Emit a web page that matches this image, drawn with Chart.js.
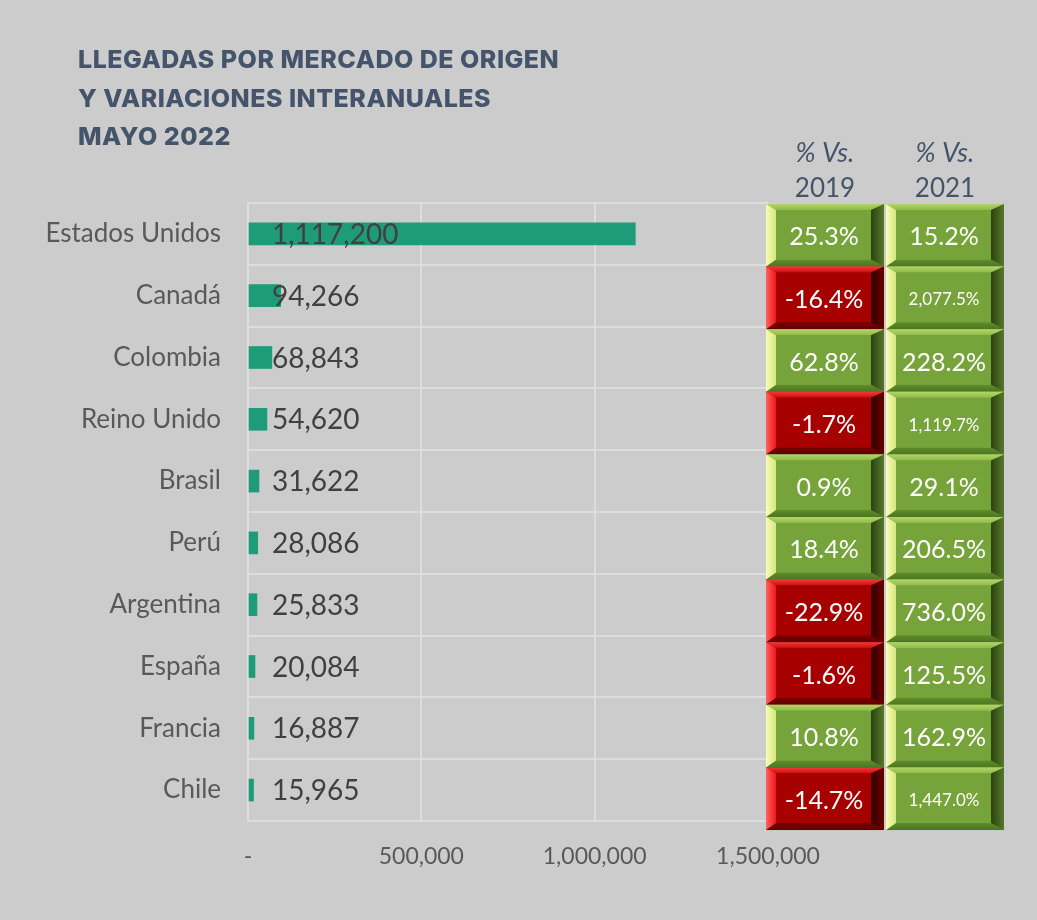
<!DOCTYPE html>
<html lang="es">
<head>
<meta charset="utf-8">
<title>Llegadas por mercado de origen - Mayo 2022</title>
<script src="https://cdn.jsdelivr.net/npm/chart.js@4.4.1/dist/chart.umd.min.js"></script>
<style>
  html, body { margin: 0; padding: 0; background: #cccccc; }
  #wrap { position: relative; width: 1037px; height: 920px; }
  canvas { display: block; }
</style>
</head>
<body>
<div id="wrap"><canvas id="chart" width="1037" height="920"></canvas></div>
<script>
// Mercados de origen y llegadas de mayo 2022
const categories = ['Estados Unidos', 'Canadá', 'Colombia', 'Reino Unido', 'Brasil', 'Perú', 'Argentina', 'España', 'Francia', 'Chile'];
const arrivals = [1117200, 94266, 68843, 54620, 31622, 28086, 25833, 20084, 16887, 15965];

// Variación porcentual frente a 2019 y 2021
const vs2019 = [25.3, -16.4, 62.8, -1.7, 0.9, 18.4, -22.9, -1.6, 10.8, -14.7];
const vs2021 = [15.2, 2077.5, 228.2, 1119.7, 29.1, 206.5, 736.0, 125.5, 162.9, 1447.0];

// Marcas del eje horizontal
const xTicks = [0, 500000, 1000000, 1500000];

const titleLines = ['LLEGADAS POR MERCADO DE ORIGEN', 'Y VARIACIONES INTERANUALES', 'MAYO 2022'];
const columnHeaders = [['% Vs.', '2019'], ['% Vs.', '2021']];

const FONT = 'Lato, "Open Sans", sans-serif';
const SLATE = '#44546a';

const fmtInt = v => v.toLocaleString('en-US');
const fmtPct = v => v.toLocaleString('en-US', { minimumFractionDigits: 1, maximumFractionDigits: 1 }) + '%';

const PALETTES = {
  up: {
    face: '#76a33a',
    top: ['#b3d56a', '#8fba48'],
    bottom: ['#4c7620', '#5f8c2b'],
    left: ['#f8fcb8', '#d6e77e'],
    right: ['#56782a', '#2a4210']
  },
  down: {
    face: '#a60000',
    top: ['#f23a3a', '#cc0c0c'],
    bottom: ['#5e0000', '#7a0000'],
    left: ['#ff6060', '#f01818'],
    right: ['#6a0000', '#320000']
  }
};

function poly(ctx, pts, fill) {
  ctx.beginPath();
  ctx.moveTo(pts[0][0], pts[0][1]);
  for (let i = 1; i < pts.length; i++) ctx.lineTo(pts[i][0], pts[i][1]);
  ctx.closePath();
  ctx.fillStyle = fill;
  ctx.fill();
}

// Celda con relieve biselado
function bevelCell(ctx, x, y, w, h, pal) {
  const L = 10, R = 13, T = 6, B = 7;
  const ix = x + L, iy = y + T, iw = w - L - R, ih = h - T - B;
  ctx.fillStyle = pal.face;
  ctx.fillRect(x, y, w, h);

  let g = ctx.createLinearGradient(0, y, 0, iy);
  g.addColorStop(0, pal.top[0]); g.addColorStop(1, pal.top[1]);
  poly(ctx, [[x, y], [x + w, y], [ix + iw, iy], [ix, iy]], g);

  g = ctx.createLinearGradient(0, y + h, 0, iy + ih);
  g.addColorStop(0, pal.bottom[0]); g.addColorStop(1, pal.bottom[1]);
  poly(ctx, [[x, y + h], [x + w, y + h], [ix + iw, iy + ih], [ix, iy + ih]], g);

  g = ctx.createLinearGradient(x, 0, ix, 0);
  g.addColorStop(0, pal.left[0]); g.addColorStop(1, pal.left[1]);
  poly(ctx, [[x, y], [ix, iy], [ix, iy + ih], [x, y + h]], g);

  g = ctx.createLinearGradient(x + w, 0, ix + iw, 0);
  g.addColorStop(0, pal.right[0]); g.addColorStop(1, pal.right[1]);
  poly(ctx, [[x + w, y], [ix + iw, iy], [ix + iw, iy + ih], [x + w, y + h]], g);

  ctx.fillStyle = pal.face;
  ctx.fillRect(ix, iy, iw, ih);
}

const panelPlugin = {
  id: 'panel',
  beforeDraw(chart) {
    const ctx = chart.ctx;
    ctx.save();
    ctx.fillStyle = '#cccccc';
    ctx.fillRect(0, 0, chart.width, chart.height);
    ctx.restore();
  },
  afterDatasetsDraw(chart) {
    // Etiquetas de valor junto a la base de cada barra
    const ctx = chart.ctx;
    const xs = chart.scales.x;
    const meta = chart.getDatasetMeta(0);
    ctx.save();
    ctx.font = '28px ' + FONT;
    ctx.fillStyle = '#404040';
    ctx.textAlign = 'left';
    ctx.textBaseline = 'middle';
    const x0 = xs.getPixelForValue(0) + 24;
    meta.data.forEach((bar, i) => {
      ctx.fillText(fmtInt(arrivals[i]), x0, bar.y + 1);
    });
    ctx.restore();
  },
  afterDraw(chart) {
    const ctx = chart.ctx;
    const area = chart.chartArea;
    const ys = chart.scales.y;
    ctx.save();

    // Título
    ctx.fillStyle = SLATE;
    ctx.textAlign = 'left';
    ctx.textBaseline = 'alphabetic';
    ctx.font = '800 25px Inter, "DejaVu Sans", sans-serif';
    if ('letterSpacing' in ctx) ctx.letterSpacing = '0.5px';
    titleLines.forEach((t, i) => ctx.fillText(t, 78, 68 + i * 38.5));
    if ('letterSpacing' in ctx) ctx.letterSpacing = '0px';

    // Tabla de variaciones
    const colW = 118, gap = 2;
    const colX = [area.right - 2, area.right - 2 + colW + gap];
    const n = categories.length;
    const step = ys.getPixelForValue(1) - ys.getPixelForValue(0);
    const tableTop = ys.getPixelForValue(0) - step / 2 + 1;
    const rowH = step * 1.013;

    // Encabezados de columna
    ctx.textAlign = 'center';
    columnHeaders.forEach((hdr, c) => {
      const cx = colX[c] + colW / 2;
      ctx.font = 'italic 27px ' + FONT;
      ctx.fillText(hdr[0], cx, 162);
      ctx.font = '26px ' + FONT;
      ctx.fillText(hdr[1], cx, 197);
    });

    const columns = [vs2019, vs2021];
    ctx.textBaseline = 'middle';
    for (let i = 0; i < n; i++) {
      const y = tableTop + i * rowH;
      columns.forEach((vals, c) => {
        const v = vals[i];
        bevelCell(ctx, colX[c], y, colW, rowH, v < 0 ? PALETTES.down : PALETTES.up);
        const txt = fmtPct(v);
        ctx.font = '25px ' + FONT;
        let size = 25;
        if (ctx.measureText(txt).width > colW - 22) size = 17;
        ctx.font = size + 'px ' + FONT;
        ctx.fillStyle = '#ffffff';
        ctx.fillText(txt, colX[c] + colW / 2 - 1, y + rowH / 2 + 2);
      });
    }
    ctx.restore();
  }
};

const ctx = document.getElementById('chart').getContext('2d');
new Chart(ctx, {
  type: 'bar',
  data: {
    labels: categories,
    datasets: [{
      data: arrivals,
      backgroundColor: '#1e9b78',
      borderWidth: 0,
      barThickness: 22
    }]
  },
  options: {
    indexAxis: 'y',
    responsive: false,
    animation: false,
    layout: { padding: { top: 203, right: 269, bottom: 39, left: 0 } },
    plugins: {
      legend: { display: false },
      tooltip: { enabled: false },
      title: { display: false }
    },
    scales: {
      x: {
        min: 0,
        max: 1500000,
        afterBuildTicks: s => { s.ticks = xTicks.map(v => ({ value: v })); },
        afterFit: s => { s.height = 60; },
        grid: { color: '#dddddd', lineWidth: 2, drawTicks: false },
        border: { display: true, color: '#dddddd', width: 2 },
        ticks: {
          padding: 22,
          color: '#595959',
          font: { family: FONT, size: 23 },
          maxRotation: 0,
          autoSkip: false,
          callback: v => (v === 0 ? '-' : fmtInt(v))
        }
      },
      y: {
        afterFit: s => { s.width = 248; },
        grid: { color: '#dddddd', lineWidth: 2, drawTicks: false, offset: true },
        border: { display: true, color: '#dddddd', width: 2 },
        ticks: {
          padding: 27,
          color: '#595959',
          font: { family: FONT, size: 26 }
        }
      }
    }
  },
  plugins: [panelPlugin]
});
</script>
</body>
</html>
